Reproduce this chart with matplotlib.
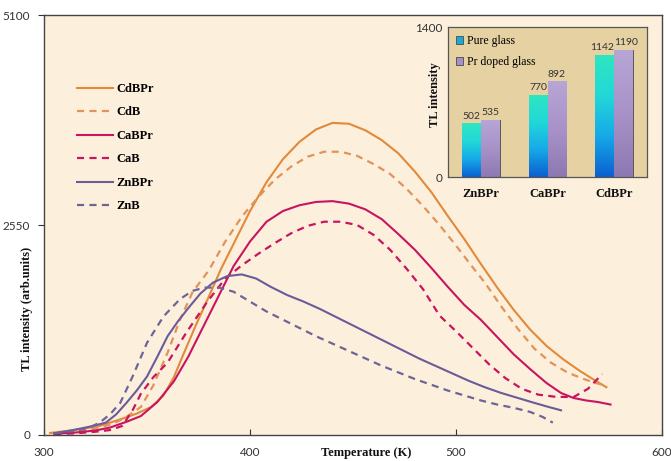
import numpy as np
import matplotlib
matplotlib.use('Agg')
import matplotlib.pyplot as plt
from matplotlib.colors import LinearSegmentedColormap

# Glow curves (temperature in K, TL intensity in arb. units)
t_cdbpr = [303, 315, 327, 337, 345, 352, 358, 363, 368, 374, 380, 386, 392, 400, 408, 416,
           424, 432, 440, 448, 456, 464, 472, 480, 488, 496, 504, 512, 520, 528, 536, 544,
           552, 560, 567, 573]
i_cdbpr = [25, 60, 110, 190, 260, 340, 480, 700, 1000, 1350, 1680, 2020, 2320, 2720, 3070, 3350,
           3560, 3710, 3790, 3780, 3700, 3580, 3420, 3200, 2950, 2660, 2380, 2080, 1790, 1520, 1280, 1080,
           920, 780, 670, 580]

t_cdb = [305, 315, 325, 333, 340, 347, 353, 360, 366, 372, 380, 388, 396, 404, 412, 420, 428,
         436, 444, 452, 460, 468, 476, 484, 492, 500, 508, 514, 522, 530, 538, 546, 554, 562,
         568, 573]
i_cdb = [20, 40, 80, 130, 220, 340, 600, 1000, 1400, 1730, 2000, 2350, 2650, 2890, 3100, 3260, 3380,
         3440, 3440, 3390, 3290, 3170, 2990, 2780, 2550, 2300, 2040, 1850, 1560, 1290, 1050, 880, 760, 680,
         630, 600]

t_cabpr = [305, 315, 325, 332, 340, 347, 355, 363, 370, 378, 385, 392, 400, 408, 416, 424, 432,
           440, 448, 456, 464, 472, 480, 488, 496, 504, 512, 520, 528, 536, 544, 551, 557, 563,
           569, 575]
i_cabpr = [15, 30, 55, 90, 160, 230, 400, 650, 950, 1350, 1700, 2050, 2350, 2590, 2720, 2790, 2830,
           2840, 2810, 2740, 2620, 2440, 2250, 2030, 1800, 1580, 1400, 1190, 980, 800, 630, 510, 450, 420,
           400, 370]

t_cab = [305, 315, 325, 332, 338, 343, 347, 353, 360, 369, 379, 388, 396, 404, 412, 420, 428,
         436, 444, 452, 460, 468, 476, 484, 492, 500, 508, 516, 524, 532, 540, 548, 557, 564, 571]
i_cab = [10, 20, 40, 60, 110, 300, 500, 700, 880, 1240, 1610, 1900, 2060, 2200, 2330, 2450, 2540,
         2590, 2590, 2550, 2430, 2250, 2020, 1770, 1450, 1260, 1060, 860, 690, 560, 490, 465, 460, 560, 740]

t_znbpr = [305, 314, 322, 330, 335, 340, 345, 350, 355, 360, 365, 370, 376, 382, 389, 396, 403,
           410, 418, 426, 434, 442, 450, 458, 466, 474, 482, 490, 498, 506, 514, 522, 530, 538,
           545, 551]
i_znbpr = [20, 60, 100, 150, 250, 390, 540, 710, 950, 1200, 1380, 1540, 1720, 1850, 1930, 1950, 1900,
           1800, 1700, 1620, 1530, 1430, 1330, 1230, 1130, 1030, 930, 840, 750, 660, 580, 510, 450, 390,
           340, 300]

t_znb = [305, 315, 322, 327, 332, 337, 343, 350, 358, 366, 372, 378, 385, 392, 400, 408, 416,
         424, 432, 440, 448, 456, 464, 472, 480, 488, 496, 504, 512, 520, 528, 536, 542, 547]
i_znb = [20, 50, 90, 150, 250, 390, 710, 1120, 1440, 1650, 1750, 1790, 1790, 1740, 1620, 1500, 1400,
         1300, 1200, 1110, 1020, 930, 840, 760, 680, 610, 540, 480, 420, 370, 330, 280, 220, 150]

# Inset bar chart
samples = ['ZnBPr', 'CaBPr', 'CdBPr']
pure_glass = [502, 770, 1142]
pr_doped = [535, 892, 1190]

serif = 'Liberation Serif'
sans = 'Lato'

fig = plt.figure(figsize=(6.71, 4.61), dpi=100)
ax = fig.add_axes([0.0656, 0.0564, 0.921, 0.911])
ax.set_facecolor('#fcf0dd')

orange = '#e2893a'
magenta = '#c9145f'
purple = '#6b5b98'
dash = (0, (3.2, 2.4))

ax.plot(t_cdbpr, i_cdbpr, color=orange, lw=1.5, label='CdBPr')
ax.plot(t_cdb, i_cdb, color='#e0935a', lw=1.6, ls=dash, label='CdB')
ax.plot(t_cabpr, i_cabpr, color=magenta, lw=1.5, label='CaBPr')
ax.plot(t_cab, i_cab, color=magenta, lw=1.6, ls=dash, label='CaB')
ax.plot(t_znbpr, i_znbpr, color=purple, lw=1.5, label='ZnBPr')
ax.plot(t_znb, i_znb, color='#6e6496', lw=1.6, ls=dash, label='ZnB')

ax.set_xlim(300, 600)
ax.set_ylim(0, 5100)
ax.set_xticks([300, 400, 500, 600])
ax.set_yticks([0, 2550, 5100])
ax.tick_params(axis='x', direction='in', length=4, pad=9, labelsize=8.5, colors='#333333')
ax.tick_params(axis='y', direction='out', length=4, pad=6, labelsize=8.5, colors='#333333')
for lab in ax.get_xticklabels() + ax.get_yticklabels():
    lab.set_family(sans)
for s in ax.spines.values():
    s.set_color('#444444')
    s.set_linewidth(1.0)

fig.text(0.545, 0.017, 'Temperature (K)', ha='center', va='center',
         family=serif, fontweight='bold', fontsize=9, color='#111111')
fig.text(0.04, 0.33, 'TL intensity (arb.units)', ha='center', va='center', rotation=90,
         family=serif, fontweight='bold', fontsize=9, color='#111111')

leg = ax.legend(loc='upper left', bbox_to_anchor=(0.035, 0.865), frameon=False,
                handlelength=2.9, handletextpad=0.25, labelspacing=0.92,
                prop={'family': serif, 'weight': 'bold', 'size': 9})

# inset
axin = fig.add_axes([0.6677, 0.616, 0.2966, 0.3254])
axin.set_facecolor('#e6d1a2')
x = np.arange(len(samples))
w = 0.285
b1 = axin.bar(x - w / 2, pure_glass, w, color='#1aa8d8', edgecolor='#4a4a4a', lw=0.6,
              label='Pure glass', zorder=2)
b2 = axin.bar(x + w / 2, pr_doped, w, color='#a58fc6', edgecolor='#4a4a4a', lw=0.6,
              label='Pr doped glass', zorder=2)

teal_cmap = LinearSegmentedColormap.from_list('teal', ['#0b5fd0', '#16a9e8', '#22d8d8', '#2fe6c0'])
lav_cmap = LinearSegmentedColormap.from_list('lav', ['#8e78b2', '#a892c8', '#b8a6d6'])
grad = np.linspace(0, 1, 256).reshape(-1, 1)
for bars, cmap in [(b1, teal_cmap), (b2, lav_cmap)]:
    for r in bars:
        x0, y0, bw, bh = r.get_x(), r.get_y(), r.get_width(), r.get_height()
        im = axin.imshow(grad, cmap=cmap, origin='lower', aspect='auto',
                         extent=[x0, x0 + bw, y0, y0 + bh], zorder=2.5)
        im.set_clip_path(r)

offsets = [0, 0, -0.04, 0, 0, 0.04]
for r, v, dx in zip(list(b1) + list(b2), pure_glass + pr_doped, offsets):
    axin.text(r.get_x() + r.get_width() / 2 + dx, v + 25, str(v), ha='center', va='bottom',
              family=sans, fontsize=7.5, color='#333333')

axin.set_xlim(-0.5, 2.5)
axin.set_ylim(0, 1400)
axin.set_yticks([0, 1400])
axin.set_xticks(x)
axin.set_xticklabels(samples, family=serif, fontweight='bold', fontsize=9, color='#111111')
axin.tick_params(axis='x', length=0, pad=8)
axin.tick_params(axis='y', length=0, pad=4, labelsize=8.5, labelcolor='#333333')
for lab in axin.get_yticklabels():
    lab.set_family(sans)
axin.set_ylabel('TL intensity', family=serif, fontweight='bold', fontsize=9, color='#111111')
axin.yaxis.set_label_coords(-0.035, 0.55)
for s in axin.spines.values():
    s.set_color('#555555')
    s.set_linewidth(0.9)
axin.legend(loc='upper left', frameon=False, handlelength=0.6, handleheight=0.6,
            handletextpad=0.3, labelspacing=0.75, borderaxespad=0.3,
            prop={'family': serif, 'size': 8.5})

fig.savefig('out.png', dpi=100)
